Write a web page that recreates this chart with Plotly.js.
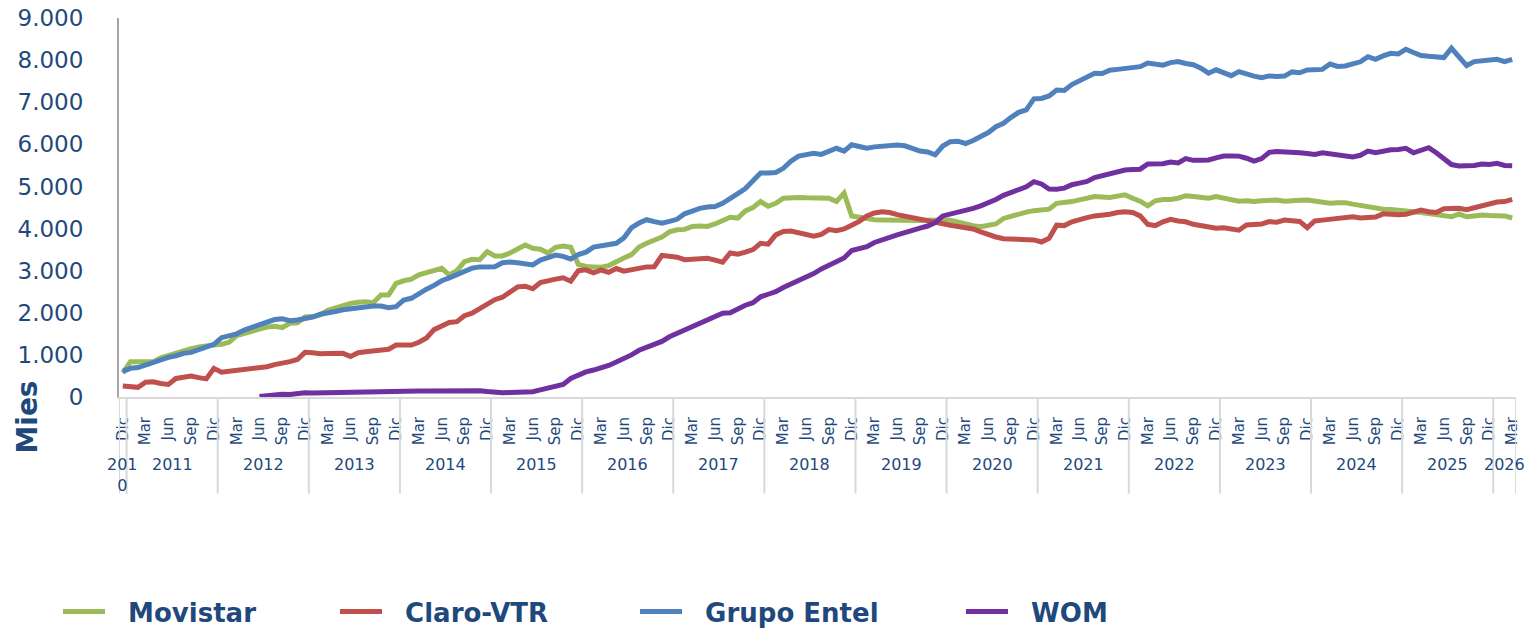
<!DOCTYPE html>
<html>
<head>
<meta charset="utf-8">
<script src="https://cdn.plot.ly/plotly-3.0.1.min.js"></script>
<style>html,body{margin:0;padding:0;background:#fff;}#chart{width:1525px;height:629px;}</style>
</head>
<body>
<div id="chart"></div>
<script>
// Months (Spanish abbreviations) and the series span: Dic 2010 .. Mar 2026
const monthNames = ['Ene','Feb','Mar','Abr','May','Jun','Jul','Ago','Sep','Oct','Nov','Dic'];
const startYear = 2010, startMonth = 11; // Dic 2010
const nPoints = 184;

// Series values (thousands of subscribers), one per month
const movistar = [570,840,840,830,835,930,990,1030,1100,1150,1190,1200,
1235,1250,1300,1460,1500,1560,1610,1660,1680,1650,1750,1760,
1900,1910,1950,2060,2120,2180,2220,2250,2260,2240,2420,2420,
2700,2760,2800,2900,2960,3000,3055,2900,3000,3215,3270,3260,
3450,3350,3350,3420,3530,3610,3530,3510,3420,3555,3585,3555,
3150,3100,3090,3080,3120,3220,3300,3380,3560,3650,3720,3800,
3920,3970,3980,4050,4060,4050,4110,4200,4270,4250,4420,4500,
4640,4530,4600,4720,4740,4740,4730,4720,4720,4720,4640,4840,
4300,4260,4220,4210,4205,4200,4195,4190,4170,4190,4200,4210,
4205,4200,4150,4120,4070,4045,4080,4110,4240,4300,4360,4390,
4425,4440,4460,4600,4610,4640,4680,4720,4760,4750,4740,4770,
4800,4720,4650,4540,4660,4690,4690,4720,4780,4760,4740,4720,
4760,4720,4670,4650,4660,4640,4660,4670,4680,4650,4650,4670,
4680,4650,4620,4600,4610,4615,4580,4545,4540,4500,4460,4450,
4440,4420,4400,4380,4360,4330,4300,4280,4345,4280,4300,4320,
4310,4300,4300,4250];

const claro = [261,250,230,350,363,320,300,440,480,500,460,430,
680,590,610,635,650,660,690,720,770,800,840,890,
1060,1052,1025,1035,1045,1037,960,1050,1076,1095,1110,1135,
1235,1245,1235,1300,1400,1600,1670,1770,1790,1930,1990,2090,
2220,2310,2370,2500,2615,2630,2570,2720,2770,2800,2830,2750,
3000,3020,2950,3016,2960,3050,2990,3030,3080,3090,3095,3360,
3340,3320,3260,3280,3280,3294,3250,3200,3420,3390,3440,3500,
3650,3630,3850,3930,3940,3900,3860,3820,3860,3975,3950,3990,
4080,4170,4300,4370,4400,4380,4330,4290,4250,4210,4180,4150,
4120,4080,4050,4020,3990,3920,3850,3800,3760,3745,3740,3720,
3730,3680,3770,4080,4070,4160,4220,4260,4300,4310,4340,4380,
4400,4380,4300,4100,4070,4160,4220,4180,4160,4100,4080,4030,
4010,4020,4000,3960,4085,4085,4110,4164,4150,4200,4190,4170,
4020,4180,4200,4225,4260,4282,4282,4250,4260,4275,4350,4330,
4330,4340,4380,4440,4400,4380,4470,4480,4480,4450,4500,4540,
4580,4630,4640,4695];

const entel = [610,681,700,760,820,900,940,980,1037,1060,1120,1160,
1250,1409,1460,1500,1590,1650,1700,1760,1840,1860,1810,1829,
1850,1900,1964,1988,2030,2070,2100,2120,2145,2160,2161,2120,
2145,2300,2344,2470,2560,2650,2760,2830,2900,2976,3060,3090,
3095,3095,3190,3205,3190,3170,3135,3250,3300,3370,3340,3275,
3380,3440,3560,3590,3620,3650,3780,4020,4130,4210,4165,4130,
4170,4220,4350,4420,4480,4510,4525,4600,4700,4830,4950,5150,
5320,5320,5330,5430,5600,5720,5760,5788,5760,5820,5906,5840,
5990,5950,5910,5940,5960,5970,5985,5965,5900,5840,5820,5750,
5960,6064,6075,6020,6090,6180,6280,6420,6500,6640,6760,6816,
7080,7090,7149,7290,7280,7420,7520,7600,7688,7680,7760,7780,
7800,7845,7845,7930,7900,7880,7940,7964,7920,7890,7810,7690,
7770,7700,7630,7726,7660,7620,7580,7624,7610,7620,7720,7700,
7766,7766,7780,7909,7850,7860,7900,7960,8082,8020,8100,8160,
8146,8258,8180,8110,8090,8082,8060,8282,8060,7870,7964,7990,
8020,8020,7964,8020];

const wom = [null,null,null,null,null,null,null,null,null,null,null,null,
null,null,null,null,null,null,15,40,70,65,62,85,
100,95,100,105,110,115,120,118,120,118,120,122,
125,130,135,140,140,145,150,150,152,155,150,150,
130,105,102,105,105,110,125,170,220,240,300,440,
520,595,640,690,750,830,910,1000,1110,1180,1250,1320,
1430,1510,1590,1680,1750,1840,1910,1990,2002,2100,2180,2240,
2380,2440,2500,2600,2680,2770,2870,2930,3040,3130,3230,3300,
3480,3540,3570,3670,3740,3790,3850,3903,3966,4010,4060,4140,
4300,4340,4390,4450,4480,4540,4600,4690,4790,4853,4900,4990,
5113,5060,4940,4932,4960,5040,5080,5120,5210,5260,5300,5330,
5390,5400,5410,5534,5534,5540,5580,5560,5660,5620,5620,5630,
5680,5724,5724,5720,5670,5600,5660,5810,5827,5827,5815,5800,
5780,5760,5800,5770,5740,5700,5700,5740,5840,5800,5840,5870,
5880,5906,5800,5870,5920,5800,5650,5520,5486,5486,5500,5534,
5520,5550,5500,5494];

const seriesNames = ['Movistar','Claro-VTR','Grupo Entel','WOM'];
const seriesColors = ['#9BBB59','#C0504D','#4F81BD','#7030A0'];
const tickMonths = ['Dic','Mar','Jun','Sep'];

// Category labels built from month/year
const categories = [], monthOf = [], yearOf = [];
for (let i = 0; i < nPoints; i++) {
  const m = (startMonth + i) % 12;
  const y = startYear + Math.floor((startMonth + i) / 12);
  monthOf.push(monthNames[m]); yearOf.push(y);
  categories.push(monthNames[m] + ' ' + y);
}
const tickvals = [], ticktext = [];
categories.forEach((c, i) => { if (tickMonths.includes(monthOf[i])) { tickvals.push(c); ticktext.push(monthOf[i]); } });

const FONT = 'DejaVu Sans, Verdana, sans-serif';
const TXT = '#1F497D';
const NB = '\u00a0\u00a0'; // gap between legend line and its label

const values = [movistar, claro, entel, wom];
const traces = values.map((v, k) => ({
  type: 'scatter', mode: 'lines', x: categories, y: v, name: NB + seriesNames[k],
  line: {color: seriesColors[k], width: 5},
  legend: k === 0 ? 'legend' : 'legend' + (k + 1),
  connectgaps: false
}));

// Year group separators and labels
const shapes = [], annotations = [];
const years = [...new Set(yearOf)];
const sepLine = {color: '#D9D9D9', width: 2};
years.forEach(y => {
  const first = yearOf.indexOf(y), last = yearOf.lastIndexOf(y);
  shapes.push({type: 'line', xref: 'x', yref: 'paper', x0: first - 0.5, x1: first - 0.5, y0: 0, y1: -0.255, line: sepLine});
  const label = (last === first) ? String(y).slice(0, 3) + '<br>' + String(y).slice(3) : String(y);
  annotations.push({xref: 'x', yref: 'paper', x: (first + last) / 2, y: -0.148, yanchor: 'top', showarrow: false,
    text: label, font: {family: FONT, size: 16, color: TXT}});
});
shapes.push({type: 'line', xref: 'x', yref: 'paper', x0: nPoints - 0.5, x1: nPoints - 0.5, y0: 0, y1: -0.255, line: sepLine});

annotations.push({xref: 'paper', yref: 'paper', x: -0.0655, xanchor: 'center', y: -0.053, yanchor: 'middle',
  text: '<b>Mies</b>', textangle: -90, showarrow: false, font: {family: FONT, size: 28, color: TXT}});

const legendBase = {orientation: 'h', yanchor: 'middle', y: -0.566, xanchor: 'left', bgcolor: 'rgba(0,0,0,0)',
  font: {family: FONT, size: 26, color: TXT, weight: 'bold'}, itemwidth: 42};
const legendX = [58, 335, 635, 961];
const layout = {
  width: 1525, height: 629,
  margin: {l: 119, r: 9, t: 18, b: 232, autoexpand: false},
  paper_bgcolor: '#fff', plot_bgcolor: '#fff',
  separators: ',.',
  showlegend: true,
  xaxis: {type: 'category', range: [-0.5, nPoints - 0.5], tickvals: tickvals, ticktext: ticktext, tickangle: -90,
    tickfont: {family: FONT, size: 15, color: TXT}, showgrid: false, zeroline: false, ticks: '',
    showline: true, linecolor: '#D9D9D9', linewidth: 2, ticklabelstandoff: 12, automargin: false},
  yaxis: {range: [0, 9000], dtick: 1000, tickformat: ',d', showgrid: false, zeroline: false,
    tickfont: {family: FONT, size: 23, color: TXT}, showline: true, linecolor: '#A6A6A6', linewidth: 2,
    ticks: '', ticklabelstandoff: 29, automargin: false},
  shapes: shapes, annotations: annotations
};
legendX.forEach((px, k) => {
  layout[k === 0 ? 'legend' : 'legend' + (k + 1)] = Object.assign({}, legendBase, {x: (px - 119) / (1525 - 128)});
});

Plotly.newPlot('chart', traces, layout, {displayModeBar: false, staticPlot: true});
</script>
</body>
</html>
